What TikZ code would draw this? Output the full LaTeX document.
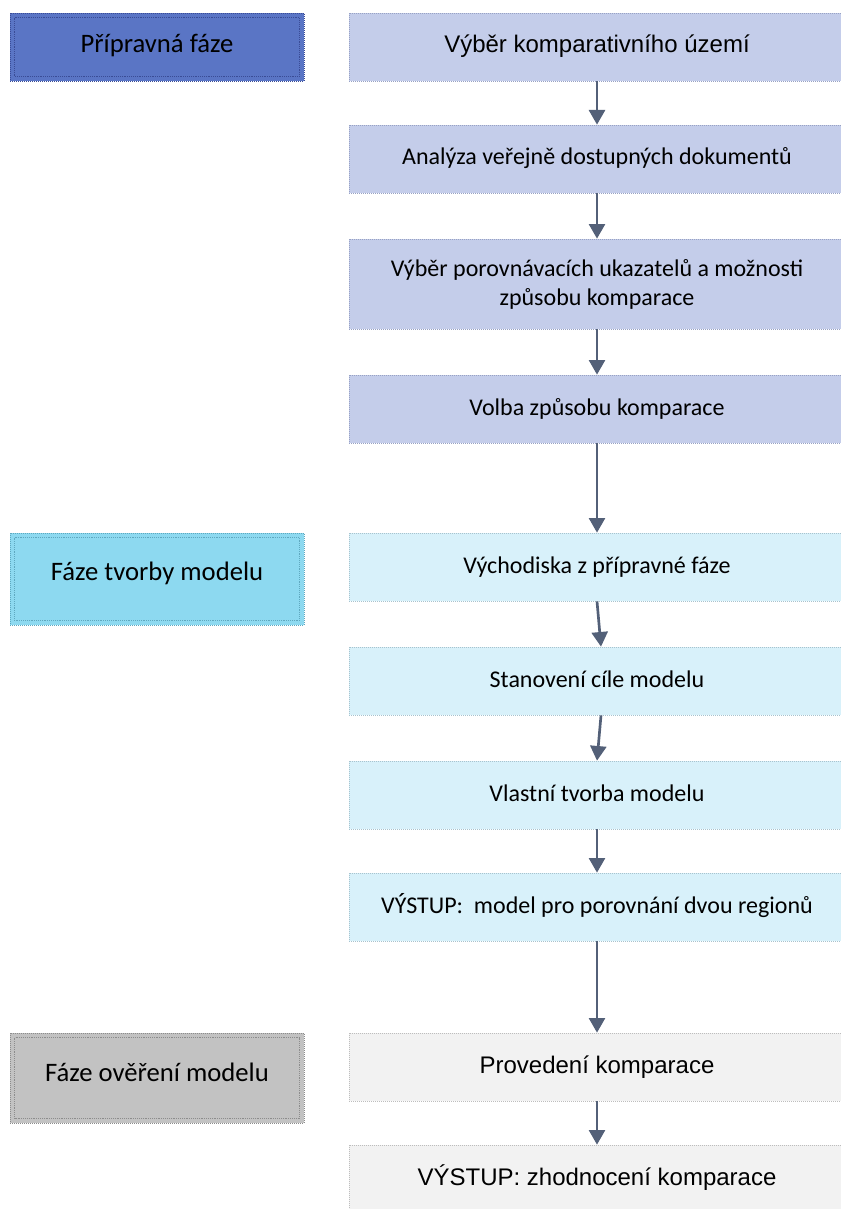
\documentclass[tikz,border=0pt]{standalone}
\usepackage{fontspec}
\setmainfont{Carlito}
\newfontfamily\farial{Liberation Sans}
\usetikzlibrary{arrows.meta}

\definecolor{prepDark}{HTML}{5A75C5}
\definecolor{prepLine}{HTML}{3A4C96}
\definecolor{prepLight}{HTML}{C4CDEA}
\definecolor{prepLightLine}{HTML}{98A2C4}
\definecolor{buildDark}{HTML}{8DD9F0}
\definecolor{buildLine}{HTML}{5FA8BF}
\definecolor{buildLight}{HTML}{D8F1FA}
\definecolor{buildLightLine}{HTML}{A8C3CE}
\definecolor{checkDark}{HTML}{C2C2C2}
\definecolor{checkLine}{HTML}{8C8C8C}
\definecolor{checkLight}{HTML}{F2F2F2}
\definecolor{checkLightLine}{HTML}{BDBDBD}
\definecolor{arrowInk}{HTML}{536078}

\tikzset{
  % phase label on the left, with an inner dotted frame
  phase/.style 2 args={rectangle, fill=#1, draw=#2, densely dotted, line width=0.5pt,
    minimum width=220.5pt, inner sep=0pt, text=black, text depth=0pt,
    font=\fontsize{20}{24}\selectfont,
    path picture={\draw[#2, dash pattern=on 0.6pt off 0.8pt, line width=0.5pt]
      ([shift={(3.4pt,-3.4pt)}]path picture bounding box.north west) rectangle
      ([shift={(-3.4pt,3.4pt)}]path picture bounding box.south east);}},
  % process step on the right
  stepbox/.style 2 args={rectangle, fill=#1, draw=#2, densely dotted, line width=0.5pt,
    minimum width=372pt, inner sep=0pt, text=black, align=center,
    font=\fontsize{18}{21.75}\selectfont},
  flow/.style={draw=arrowInk, line width=2pt, solid,
    -{Triangle[width=12pt,length=11pt]}}
}

\begin{document}
\begin{tikzpicture}[x=0.75pt,y=-0.75pt]
\useasboundingbox (0,0) rectangle (840,1209);

% phases
\node[phase={prepDark}{prepLine}, minimum height=51pt, text height=9pt] (p1) at (157,47) {Přípravná fáze};
\node[phase={buildDark}{buildLine}, minimum height=69pt, text height=2pt] (p2) at (157,579) {Fáze tvorby modelu};
\node[phase={checkDark}{checkLine}, minimum height=67.5pt, text height=4.5pt] (p3) at (157,1078) {Fáze ověření modelu};

% preparatory steps
\node[stepbox={prepLight}{prepLightLine}, minimum height=51pt, text height=9pt, text depth=0pt, font=\farial\fontsize{18}{21.75}\selectfont] (s1) at (597,47) {Výběr komparativního území};
\node[stepbox={prepLight}{prepLightLine}, minimum height=51pt, text height=9pt, text depth=0pt] (s2) at (597,159) {Analýza veřejně dostupných dokumentů};
\node[stepbox={prepLight}{prepLightLine}, minimum height=67.5pt] (s3) at (597,284) {Výběr porovnávacích ukazatelů a možnosti\\způsobu komparace};
\node[stepbox={prepLight}{prepLightLine}, minimum height=51pt, text height=9pt, text depth=0pt] (s4) at (597,409) {Volba způsobu komparace};

% model building steps
\node[stepbox={buildLight}{buildLightLine}, minimum height=51pt, text height=9pt, text depth=0pt] (s5) at (597,567) {Východiska z přípravné fáze};
\node[stepbox={buildLight}{buildLightLine}, minimum height=51pt, text height=9pt, text depth=0pt] (s6) at (597,681) {Stanovení cíle modelu};
\node[stepbox={buildLight}{buildLightLine}, minimum height=51pt, text height=9pt, text depth=0pt] (s7) at (597,795) {Vlastní tvorba modelu};
\node[stepbox={buildLight}{buildLightLine}, minimum height=51pt, text height=9pt, text depth=0pt] (s8) at (597,907) {VÝSTUP:\ \ model pro porovnání dvou regionů};

% verification steps
\node[stepbox={checkLight}{checkLightLine}, minimum height=51pt, text height=9pt, text depth=0pt, font=\farial\fontsize{18}{21.75}\selectfont] (s9) at (597,1067) {Provedení komparace};
\node[stepbox={checkLight}{checkLightLine}, minimum height=51pt, text height=9pt, text depth=0pt, font=\farial\fontsize{18}{21.75}\selectfont] (s10) at (597,1179) {VÝSTUP: zhodnocení komparace};

% connectors
\draw[flow] (s1.south) -- (s2.north);
\draw[flow] (s2.south) -- (s3.north);
\draw[flow] (s3.south) -- (s4.north);
\draw[flow] (s4.south) -- (s5.north);
\draw[flow] (s5.south) -- ([xshift=3pt]s6.north);
\draw[flow] ([xshift=3pt]s6.south) -- (s7.north);
\draw[flow] (s7.south) -- (s8.north);
\draw[flow] (s8.south) -- (s9.north);
\draw[flow] (s9.south) -- (s10.north);
\end{tikzpicture}
\end{document}
